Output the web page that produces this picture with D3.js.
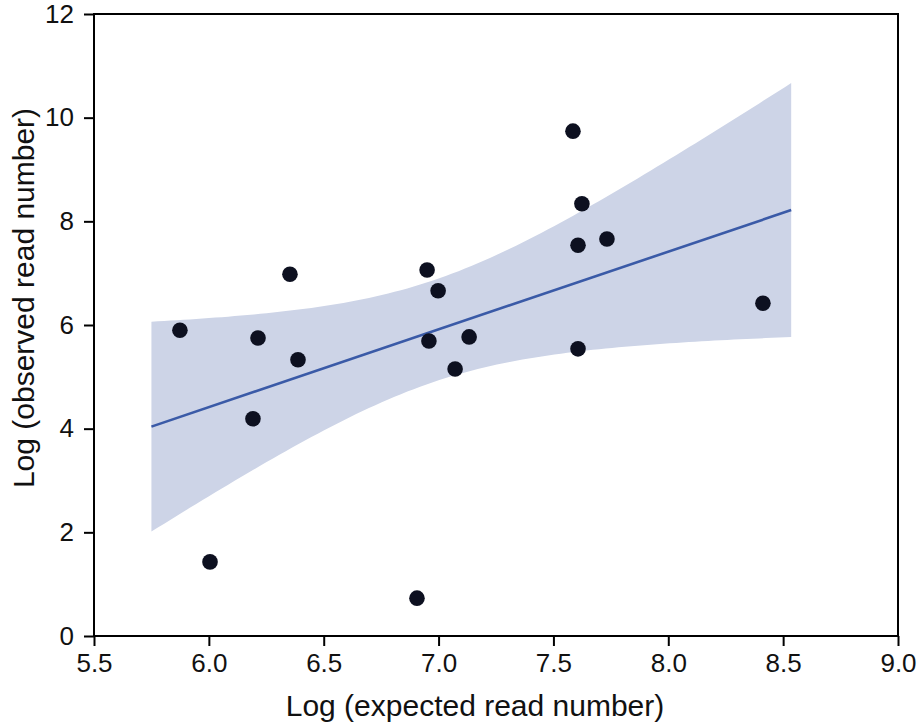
<!DOCTYPE html>
<html>
<head>
<meta charset="utf-8">
<script src="https://cdn.jsdelivr.net/npm/d3@7"></script>
<style>
  html, body { margin: 0; padding: 0; background: #fff; }
  svg { display: block; font-family: "Liberation Sans", Arial, Helvetica, sans-serif; }
</style>
</head>
<body>
<div id="chart"></div>
<script>
// ── Data ────────────────────────────────────────────────────────────────
const expectedLog = [5.874, 6.005, 6.192, 6.214, 6.353, 6.388, 6.906, 6.950, 6.958,
                     6.998, 7.072, 7.133, 7.585, 7.624, 7.607, 7.733, 7.607, 8.412];
const observedLog = [5.90, 1.43, 4.19, 5.75, 6.98, 5.33, 0.73, 7.06, 5.69,
                     6.66, 5.15, 5.77, 9.74, 8.34, 7.54, 7.66, 5.54, 6.42];
const xTicks = [5.5, 6.0, 6.5, 7.0, 7.5, 8.0, 8.5, 9.0];
const yTicks = [0, 2, 4, 6, 8, 10, 12];
const fitRange = [5.75, 8.535];   // span of the fitted line / 95% band
const tCrit = 2.1199;             // t(0.975, df = 16)

// ── Palette ─────────────────────────────────────────────────────────────
const BAND = "#cdd4e7";
const LINE = "#3a5aa7";
const DOT  = "#0d1020";

const W = 917, H = 725;
const margin = { top: 14, right: 19, bottom: 89, left: 94 };

const svg = d3.select("#chart").append("svg")
  .attr("width", W).attr("height", H);

const x = d3.scaleLinear().domain([5.5, 9.0]).range([margin.left, W - margin.right]);
const y = d3.scaleLinear().domain([0, 12]).range([H - margin.bottom, margin.top]);

// ── Linear fit + confidence band ────────────────────────────────────────
const pts = expectedLog.map((v, i) => ({ x: v, y: observedLog[i] }));
const n = pts.length;
const mx = d3.mean(pts, d => d.x), my = d3.mean(pts, d => d.y);
const sxx = d3.sum(pts, d => (d.x - mx) ** 2);
const sxy = d3.sum(pts, d => (d.x - mx) * (d.y - my));
const slope = sxy / sxx, icpt = my - slope * mx;
const s = Math.sqrt(d3.sum(pts, d => (d.y - icpt - slope * d.x) ** 2) / (n - 2));
const fitAt = v => icpt + slope * v;
const halfAt = v => tCrit * s * Math.sqrt(1 / n + (v - mx) ** 2 / sxx);

const bandXs = d3.range(0, 101).map(i => fitRange[0] + (fitRange[1] - fitRange[0]) * i / 100);

svg.append("path").datum(bandXs)
  .attr("fill", BAND)
  .attr("d", d3.area()
    .x(d => x(d))
    .y0(d => y(fitAt(d) - halfAt(d)))
    .y1(d => y(fitAt(d) + halfAt(d))));

svg.append("path").datum(fitRange)
  .attr("fill", "none").attr("stroke", LINE).attr("stroke-width", 2.6)
  .attr("d", d3.line().x(d => x(d)).y(d => y(fitAt(d))));

// ── Points ──────────────────────────────────────────────────────────────
svg.selectAll(".dot").data(pts).enter().append("circle")
  .attr("cx", d => x(d.x)).attr("cy", d => y(d.y))
  .attr("r", 7.8).attr("fill", DOT);

// ── Frame & axes ────────────────────────────────────────────────────────
svg.append("rect")
  .attr("x", x(5.5)).attr("y", y(12))
  .attr("width", x(9.0) - x(5.5)).attr("height", y(0) - y(12))
  .attr("fill", "none").attr("stroke", "#000").attr("stroke-width", 2);

const xAxis = svg.append("g")
  .attr("transform", `translate(0,${y(0)})`)
  .call(d3.axisBottom(x).tickValues(xTicks).tickFormat(d3.format(".1f"))
    .tickSize(10).tickPadding(8));
xAxis.selectAll("text").attr("fill", "#111").style("font-size", "26px")
  .style("font-family", "'Liberation Sans', Arial, sans-serif");

const yAxis = svg.append("g")
  .attr("transform", `translate(${x(5.5)},0)`)
  .call(d3.axisLeft(y).tickValues(yTicks).tickSize(10).tickPadding(10));
yAxis.selectAll("text").attr("fill", "#111").style("font-size", "26px")
  .style("font-family", "'Liberation Sans', Arial, sans-serif");

svg.selectAll(".domain").remove();
svg.selectAll(".tick line").attr("stroke", "#000").attr("stroke-width", 2);

// Axis titles
svg.append("text")
  .attr("x", 475).attr("y", 716)
  .attr("text-anchor", "middle")
  .attr("fill", "#111").style("font-size", "30px")
  .text("Log (expected read number)");

svg.append("text")
  .attr("transform", "translate(34,298) rotate(-90)")
  .attr("text-anchor", "middle")
  .attr("fill", "#111").style("font-size", "30px")
  .text("Log (observed read number)");
</script>
</body>
</html>
